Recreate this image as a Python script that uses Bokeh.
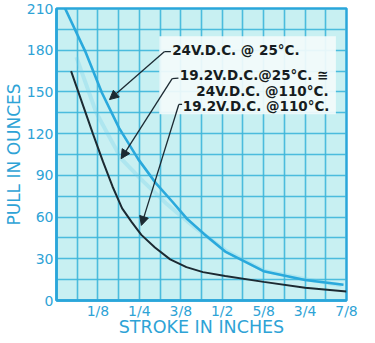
from bokeh.plotting import figure
from bokeh.models import Range1d, FixedTicker, Arrow, NormalHead, Label, BoxAnnotation
from bokeh.embed import file_html
from bokeh.resources import INLINE

# ---- data ----
x_tick_values = [0.125, 0.25, 0.375, 0.5, 0.625, 0.75, 0.875]
x_tick_labels = ["1/8", "1/4", "3/8", "1/2", "5/8", "3/4", "7/8"]
y_tick_values = [0, 30, 60, 90, 120, 150, 180, 210]

# 24 V.D.C. @ 25 C
c24_25_x = [0.026, 0.087, 0.137, 0.189, 0.247, 0.299, 0.349, 0.392, 0.445, 0.509, 0.625, 0.75, 0.866]
c24_25_y = [210, 179, 149.4, 124, 101.5, 84.6, 71.2, 59.2, 47.9, 35.2, 21.1, 14.8, 11.3]

# 19.2 V.D.C. @ 25 C  ~=  24 V.D.C. @ 110 C (faint)
c19_25_x = [0.06, 0.12, 0.195, 0.26, 0.33, 0.42, 0.51, 0.625, 0.76, 0.86]
c19_25_y = [175, 135, 102, 86, 70, 52, 36, 21.5, 15, 11]

# 19.2 V.D.C. @ 110 C
c19_110_x = [0.044, 0.110, 0.140, 0.169, 0.198, 0.227, 0.256, 0.297, 0.343, 0.392, 0.442, 0.509, 0.625, 0.75, 0.875]
c19_110_y = [165, 119.8, 100, 82, 66.2, 56.4, 47.2, 38.1, 29.6, 24.0, 20.4, 17.6, 13.4, 9.2, 6.5]

TXT = "#2ea3d6"
GRID = "#3db6da"
DARK = "#1c2a32"

p = figure(width=359, height=339,
           x_range=Range1d(0, 0.875), y_range=Range1d(0, 210),
           output_backend="svg", toolbar_location=None,
           min_border_left=47, min_border_right=13,
           min_border_top=8, min_border_bottom=0)

p.background_fill_color = "#c8f0f2"
p.border_fill_color = "white"
p.outline_line_color = "#2aa6da"
p.outline_line_width = 2.5

# grid every 1/16 inch and every 15 ounces
p.xgrid.ticker = FixedTicker(ticks=[i / 16 for i in range(1, 14)])
p.ygrid.ticker = FixedTicker(ticks=list(range(15, 210, 15)))
for g in (p.xgrid, p.ygrid):
    g.grid_line_color = GRID
    g.grid_line_width = 1.6
    g.grid_line_alpha = 0.9

# axes
p.xaxis.ticker = FixedTicker(ticks=x_tick_values)
p.xaxis.major_label_overrides = {v: s for v, s in zip(x_tick_values, x_tick_labels)}
p.yaxis.ticker = FixedTicker(ticks=y_tick_values)
for ax in (p.xaxis, p.yaxis):
    ax.axis_line_color = "#2aa6da"
    ax.axis_line_width = 2.5
    ax.major_tick_line_color = None
    ax.minor_tick_line_color = None
    ax.major_tick_out = 0
    ax.major_tick_in = 0
    ax.minor_tick_out = 0
    ax.minor_tick_in = 0
    ax.major_label_text_color = TXT
    ax.major_label_text_font = "DejaVu Sans"
    ax.major_label_text_font_size = "14px"
    ax.major_label_standoff = 3
    ax.axis_label_text_color = TXT
    ax.axis_label_text_font = "DejaVu Sans"
    ax.axis_label_text_font_style = "normal"
p.xaxis.major_label_standoff = 2
p.xaxis.axis_label = "STROKE IN INCHES"
p.xaxis.axis_label_text_font_size = "17.5px"
p.xaxis.axis_label_standoff = -5
p.yaxis.axis_label = "PULL IN OUNCES"
p.yaxis.axis_label_text_font_size = "17px"
p.yaxis.axis_label_standoff = 0

# white label area
p.add_layout(BoxAnnotation(left=0.31, right=0.843, bottom=134, top=190,
                           fill_color="#f3fbfb", fill_alpha=0.92, line_color=None))

# curves
p.line(c19_25_x, c19_25_y, line_color="#6ccbe8", line_width=4, line_alpha=0.28)
p.line(c24_25_x, c24_25_y, line_color="#2aa9dc", line_width=2.6)
p.line(c19_110_x, c19_110_y, line_color=DARK, line_width=2.0)

# labels
lab_kw = dict(text_font="DejaVu Sans", text_font_size="13.5px", text_font_style="bold",
              text_color="#161c20", text_baseline="middle", text_align="left")
p.add_layout(Label(x=0.349, y=180, text="24V.D.C. @ 25°C.", **lab_kw))
p.add_layout(Label(x=0.372, y=162, text="19.2V.D.C.@25°C. ≅", **lab_kw))
p.add_layout(Label(x=0.422, y=150.5, text="24V.D.C. @110°C.", **lab_kw))
p.add_layout(Label(x=0.381, y=140, text="19.2V.D.C. @110°C.", **lab_kw))

# leader lines with arrow heads
def leader(x0, y0, xk, yk, xt, yt):
    p.add_layout(Arrow(end=None, x_start=x0, y_start=y0, x_end=xk, y_end=yk,
                       line_color=DARK, line_width=1.3))
    p.add_layout(Arrow(end=NormalHead(size=9, fill_color=DARK, line_color=DARK),
                       x_start=xk, y_start=yk, x_end=xt, y_end=yt,
                       line_color=DARK, line_width=1.3))

leader(0.345, 179, 0.326, 179, 0.160, 144.5)
leader(0.368, 160, 0.349, 159.5, 0.195, 102)
leader(0.379, 141, 0.369, 141, 0.256, 54)

open("out.html", "w").write(file_html(p, INLINE))
